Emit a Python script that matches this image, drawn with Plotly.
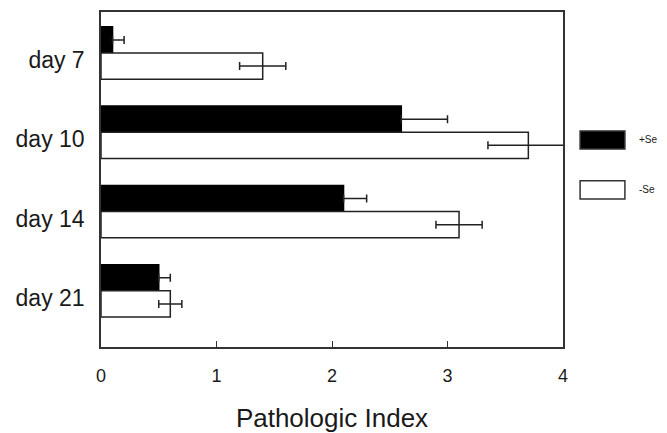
import plotly.graph_objects as go

days = ["day 7", "day 10", "day 14", "day 21"]
plus_se = [0.1, 2.6, 2.1, 0.5]
plus_se_err = [0.1, 0.4, 0.2, 0.1]
minus_se = [1.4, 3.7, 3.1, 0.6]
minus_se_err = [0.2, 0.35, 0.2, 0.1]
x_ticks = [0, 1, 2, 3, 4]

txt = "#1a1a1a"
bw = 0.33
shift = 0.088
fig = go.Figure()
fig.add_trace(go.Bar(
    y=days, x=plus_se, orientation="h", name="+Se",
    width=bw, offset=-shift - bw,
    marker=dict(color="black", line=dict(color="black", width=1.5)),
    error_x=dict(type="data", array=plus_se_err, arrayminus=[0]*len(days), symmetric=False,
                 color="#222", thickness=1.5, width=4),
))
fig.add_trace(go.Bar(
    y=days, x=minus_se, orientation="h", name="-Se",
    width=bw, offset=-shift,
    marker=dict(color="white", line=dict(color="#222", width=1.5)),
    error_x=dict(type="data", array=minus_se_err, symmetric=True,
                 color="#222", thickness=1.5, width=4),
))

fig.update_layout(
    width=667, height=433,
    margin=dict(l=101, r=104, t=12, b=86),
    paper_bgcolor="white", plot_bgcolor="white",
    barmode="overlay",
    showlegend=False,
    font=dict(family="Arial, Liberation Sans, sans-serif", color=txt),
)
fig.update_xaxes(
    range=[0, 4], tickvals=x_ticks, ticks="inside", ticklen=6, tickcolor="#333",
    showline=True, linecolor="#333", linewidth=1.5, mirror=True, showgrid=False, zeroline=False,
    tickfont=dict(size=18, color=txt), ticklabelstandoff=12, automargin=False,
    title=dict(text="Pathologic Index", font=dict(size=26, color=txt), standoff=27),
)
fig.update_yaxes(
    categoryorder="array", categoryarray=days,
    range=[3.62, -0.605], automargin=False,
    showline=True, linecolor="#333", linewidth=1.5, mirror=True, showgrid=False, zeroline=False,
    ticks="", tickfont=dict(size=23, color=txt), ticklabelstandoff=10,
)

# custom legend with wide swatches
legend_items = [("+Se", "black", 0.618), ("-Se", "white", 0.469)]
for name, col, yc in legend_items:
    fig.add_shape(type="rect", xref="paper", yref="paper",
                  x0=1.037, x1=1.134, y0=yc - 0.027, y1=yc + 0.027,
                  fillcolor=col, line=dict(color="#333", width=1.5))
    fig.add_annotation(xref="paper", yref="paper", x=1.16, y=yc, text=name,
                       showarrow=False, xanchor="left", font=dict(size=10, color=txt))

fig.write_html("out.html", config={"displayModeBar": False},
               post_script="document.body.style.margin='0';")
